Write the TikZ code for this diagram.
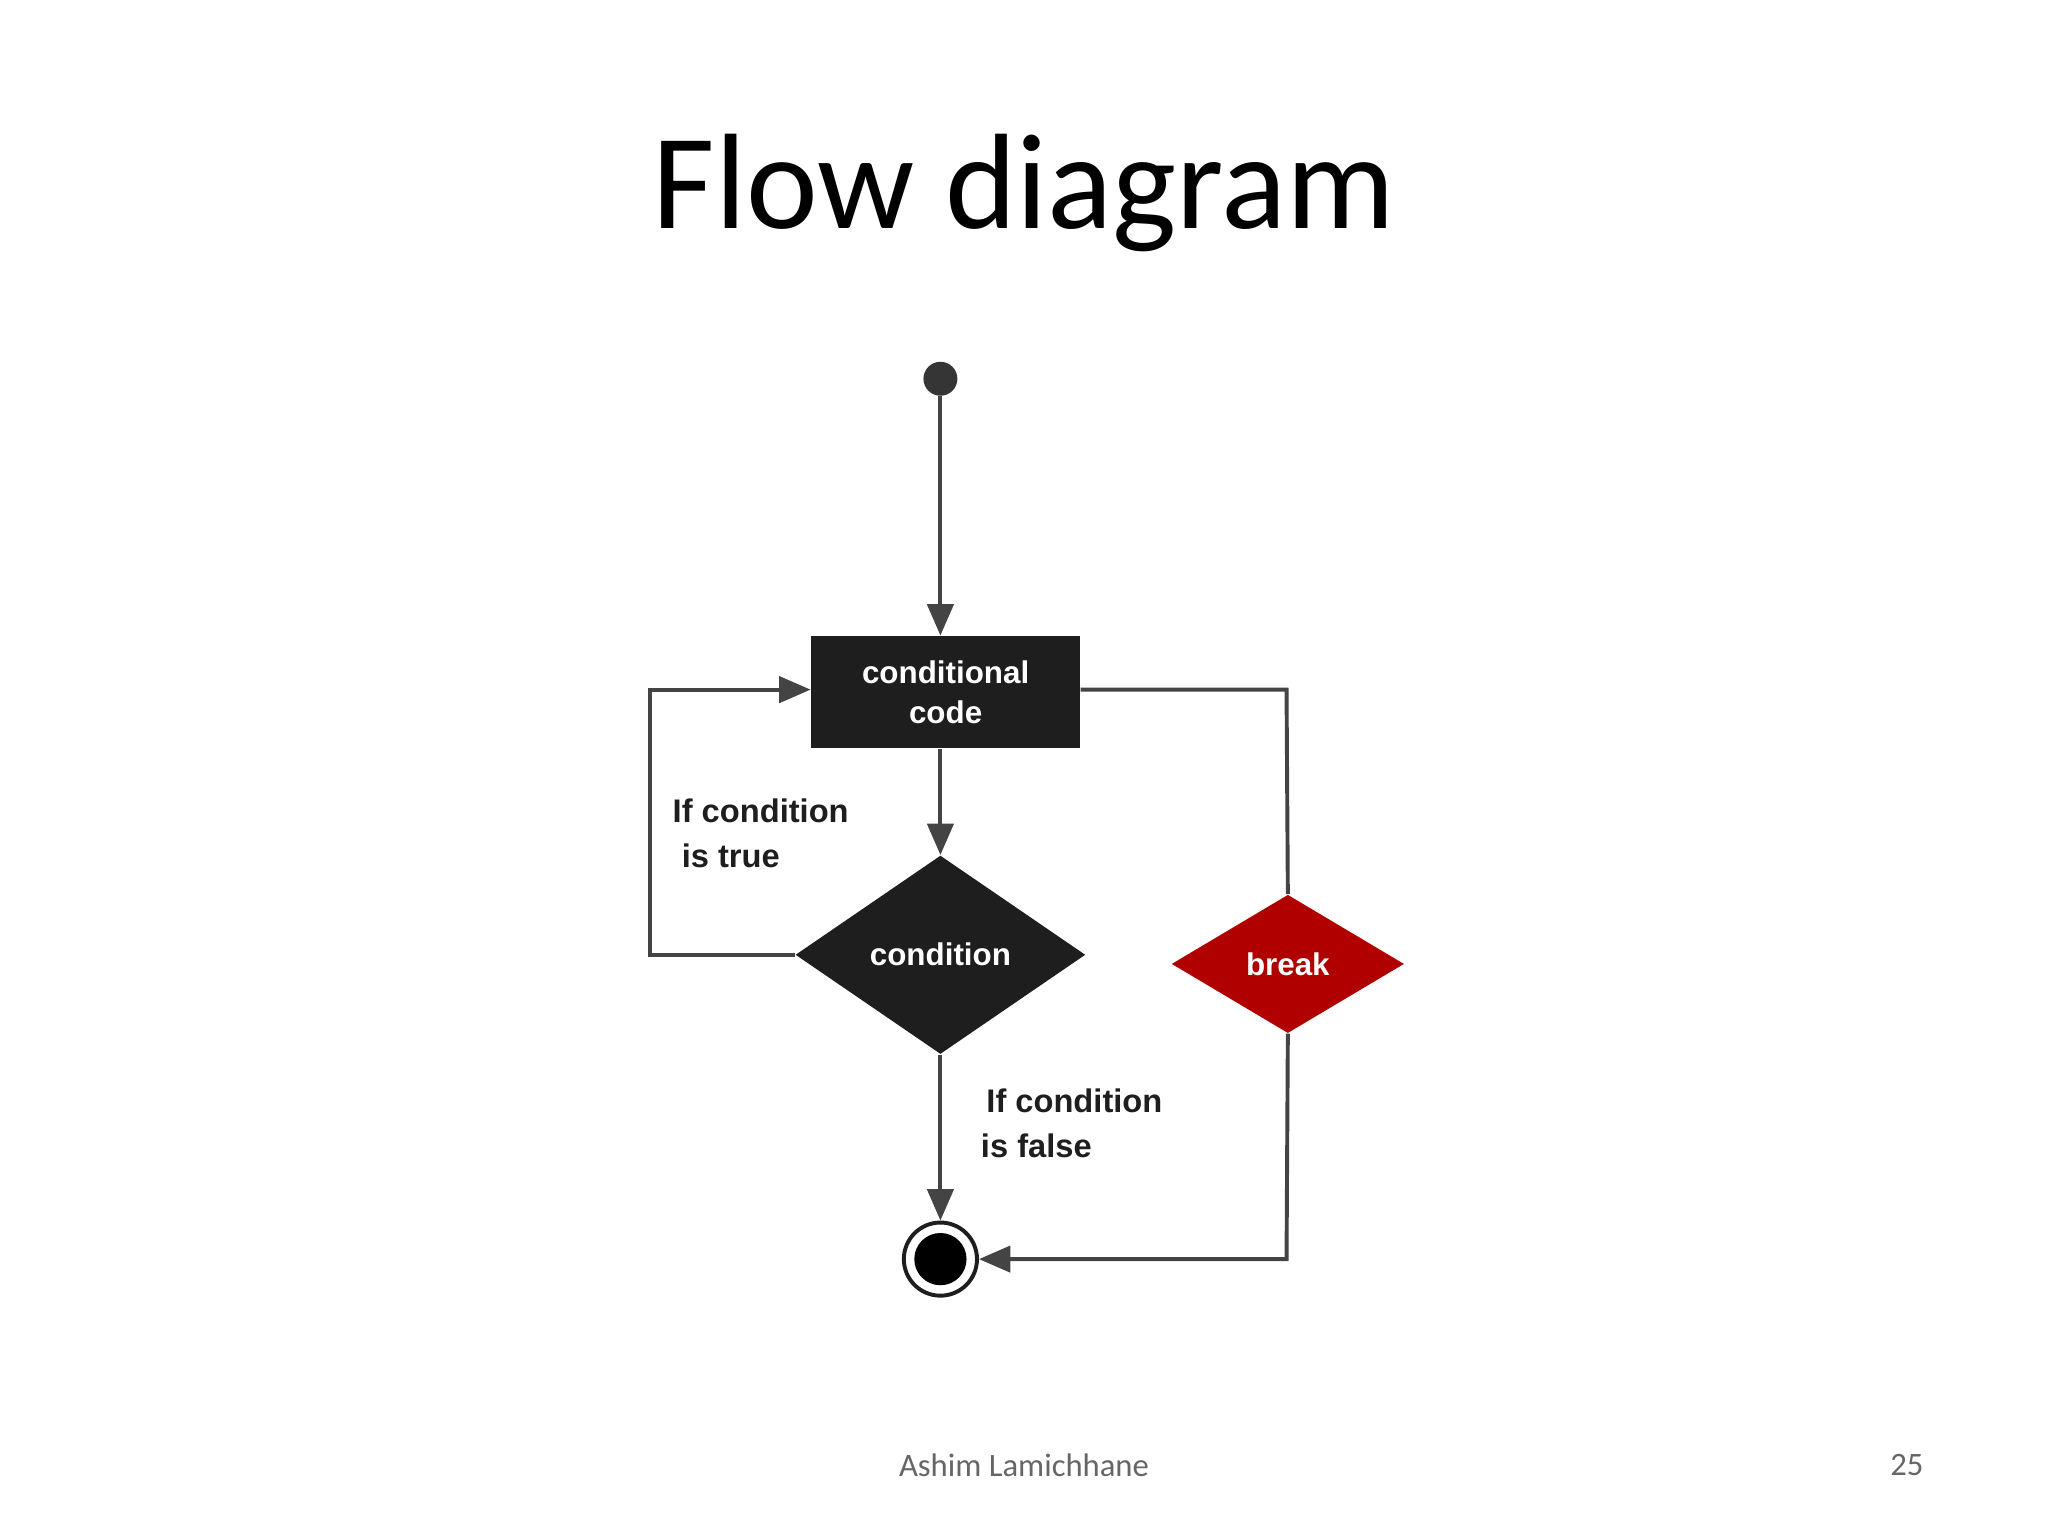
\documentclass[tikz,border=0pt]{standalone}
\usepackage{fontspec}
\setmainfont{Liberation Sans}
\newfontfamily\titlefont{Carlito}
\usetikzlibrary{shapes.geometric,arrows.meta}
\definecolor{ln}{HTML}{444444}
\definecolor{dk}{HTML}{1E1E1E}
\definecolor{brk}{HTML}{B00000}
\begin{document}
\begin{tikzpicture}[x=0.5pt,y=-0.5pt,
  conn/.style={draw=ln,line width=1.5pt,-{Triangle[length=12pt,width=10pt]}},
  line/.style={draw=ln,line width=1.5pt},
  wtxt/.style={text=white,font=\bfseries\fontsize{12}{15}\selectfont,align=center},
  lbl/.style={text=dk,font=\bfseries\fontsize{12.5}{17}\selectfont,align=left,anchor=west}]
\useasboundingbox (0,0) rectangle (1568,1176);
\node[font=\titlefont\fontsize{52}{60}\selectfont] (title) at (784,148) {Flow diagram};
\node[circle,fill=dk!90,minimum size=13pt,inner sep=0] (start) at (720,290) {};
\node[wtxt,fill=dk,minimum width=103pt,minimum height=43pt,inner sep=0] (box) at (724,530) {conditional\\code};
\node[wtxt,diamond,fill=dk,minimum width=111pt,minimum height=76pt,inner sep=0] (cond) at (720,731) {condition};
\node[wtxt,diamond,fill=brk,minimum width=89pt,minimum height=53pt,inner sep=0] (brk) at (986,738) {break};
\node[circle,draw=dk,line width=1.5pt,fill=white,minimum size=28pt,inner sep=0] (end) at (720,964) {};
\node[circle,fill=black,minimum size=20pt,inner sep=0] (endin) at (720,964) {};
\coordinate (l1) at (498,731);
\coordinate (l2) at (498,528);
\coordinate (r1) at (985,528);
\coordinate (r2) at (985,964);
\draw[conn] (start) -- (box.north -| start);
\draw[conn] (box.south -| cond) -- (cond.north);
\draw[conn] (cond.west) -- (l1) -- (l2) -- (l2 -| box.west);
\draw[line] (box.east |- r1) -- (r1) -- (brk.north);
\draw[conn] (brk.south) -- (r2) -- (end.east);
\draw[conn] (cond.south) -- (end.north);
\node[lbl] (t1) at (508,638) {If condition\\\ is true};
\node[lbl] (t2) at (744,860) {\,If condition\\is false};
\node[text=gray!80!black,font=\titlefont\fontsize{12.5}{15}\selectfont] (auth) at (784,1122) {Ashim Lamichhane};
\node[text=gray!80!black,font=\titlefont\fontsize{12.5}{15}\selectfont] (pg) at (1460,1122) {25};
\end{tikzpicture}
\end{document}
